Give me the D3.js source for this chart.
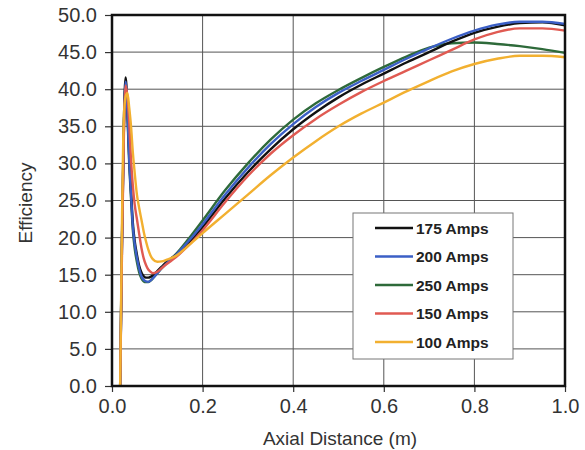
<!DOCTYPE html>
<html><head><meta charset="utf-8">
<script src="https://cdn.jsdelivr.net/npm/d3@7"></script>
<style>body{margin:0;background:#fff}svg{display:block}</style>
</head><body><svg id="c" width="585" height="450"></svg>
<script>
const xs = [0.018,0.022,0.026,0.030,0.034,0.038,0.042,0.046,0.050,0.055,0.060,0.065,0.070,0.075,0.080,0.085,0.090,0.100,0.110,0.120,0.140,0.170,0.200,0.250,0.300,0.350,0.400,0.450,0.500,0.550,0.600,0.650,0.700,0.750,0.800,0.850,0.900,0.950,1.000];
const amps175 = [0,20,35,41.6,37.5,31.0,26.3,22.0,19.6,17.7,16.2,15.3,14.8,14.6,14.6,14.7,14.9,15.5,16.1,16.7,17.6,19.3,21.4,25.3,28.8,31.9,34.6,36.9,38.9,40.6,42.1,43.6,45.0,46.4,47.6,48.4,48.9,49.0,48.6];
const amps200 = [0,19,34,41.0,37.0,30.5,25.8,21.5,19.2,17.3,15.8,14.8,14.3,14.1,14.05,14.2,14.5,15.2,15.9,16.5,17.6,19.6,21.8,25.8,29.4,32.6,35.3,37.6,39.5,41.1,42.6,44.1,45.5,46.8,47.9,48.7,49.1,49.1,48.8];
const amps250 = [0,19,34,40.7,36.5,30.0,25.3,21.0,18.6,16.7,15.3,14.5,14.1,14.0,14.0,14.2,14.5,15.2,15.9,16.6,17.7,19.9,22.3,26.4,30.0,33.2,35.9,38.1,39.9,41.5,43.0,44.4,45.6,46.2,46.3,46.1,45.8,45.4,44.9];
const amps150 = [0,18,33,40.5,39.0,35.5,30.5,27.0,24.5,22.5,20.5,18.6,17.2,16.3,15.7,15.4,15.2,15.4,15.9,16.4,17.3,19.0,21.0,24.8,28.3,31.3,33.8,36.0,37.9,39.6,41.1,42.5,43.9,45.3,46.7,47.7,48.2,48.2,47.9];
const amps100 = [0,22,36,39.0,39.5,37.5,35.0,31.5,28.8,25.8,24.0,22.4,20.8,19.5,18.4,17.6,17.1,16.75,16.8,17.0,17.5,19.0,20.6,23.2,25.8,28.4,30.8,33.0,35.0,36.7,38.2,39.7,41.1,42.4,43.4,44.1,44.5,44.5,44.3];
const seriesNames = ["175 Amps","200 Amps","250 Amps","150 Amps","100 Amps"];
const seriesValues = [amps175, amps200, amps250, amps150, amps100];
const seriesColors = ["#111111","#3b5fc6","#2e6a3a","#e05a52","#f2b030"];
const xTicks = [0,0.2,0.4,0.6,0.8,1.0];
const yTicks = [0,5,10,15,20,25,30,35,40,45,50];

const L=112,R=565,T=15,B=386;
const svg=d3.select("#c");
const x=d3.scaleLinear().domain([0,1]).range([L,R]);
const y=d3.scaleLinear().domain([0,50]).range([B,T]);
const font="'Liberation Sans', Arial, sans-serif";

// grid
svg.append("g").selectAll("line").data(xTicks.slice(1,-1)).join("line")
  .attr("x1",d=>x(d)).attr("x2",d=>x(d)).attr("y1",T).attr("y2",B)
  .attr("stroke","#555").attr("stroke-width",1);
svg.append("g").selectAll("line").data(yTicks.slice(1,-1)).join("line")
  .attr("x1",L).attr("x2",R).attr("y1",d=>y(d)).attr("y2",d=>y(d))
  .attr("stroke","#555").attr("stroke-width",1);

// axes
const ya=svg.append("g").attr("transform",`translate(${L},0)`)
  .call(d3.axisLeft(y).tickValues(yTicks).tickFormat(d3.format(".1f")).tickSize(7).tickPadding(8));
const xa=svg.append("g").attr("transform",`translate(0,${B})`)
  .call(d3.axisBottom(x).tickValues(xTicks).tickFormat(d3.format(".1f")).tickSize(6).tickPadding(7));
[ya,xa].forEach(a=>{
  a.select(".domain").remove();
  a.selectAll(".tick line").attr("stroke","#333").attr("stroke-width",1.2);
  a.selectAll("text").attr("font-family",font).attr("font-size",20).attr("fill","#333");
});

// lines
const line=d3.line().x((d,i)=>x(xs[i])).y(d=>y(d)).curve(d3.curveMonotoneX);
const order=[2,0,1,3,4];
svg.append("g").selectAll("path").data(order).join("path")
  .attr("d",k=>line(seriesValues[k])).attr("fill","none")
  .attr("stroke",k=>seriesColors[k]).attr("stroke-width",2.4)
  .attr("stroke-linejoin","round");

// frame
svg.append("rect").attr("x",L).attr("y",T).attr("width",R-L).attr("height",B-T)
  .attr("fill","none").attr("stroke","#111").attr("stroke-width",2.5);

// legend
const lg=svg.append("g");
lg.append("rect").attr("x",353).attr("y",213).attr("width",160).attr("height",146)
  .attr("fill","#fff").attr("stroke","#777").attr("stroke-width",1);
seriesNames.forEach((n,i)=>{
  const yy=228+i*28.5;
  lg.append("line").attr("x1",375).attr("x2",413).attr("y1",yy).attr("y2",yy)
    .attr("stroke",seriesColors[i]).attr("stroke-width",2.6);
  lg.append("text").attr("x",416).attr("y",yy+5.5).text(n)
    .attr("font-family",font).attr("font-weight","bold").attr("font-size",15.5).attr("fill","#222");
});

// titles
svg.append("text").attr("x",340).attr("y",445).attr("text-anchor","middle")
  .attr("font-family",font).attr("font-size",19).attr("fill","#333").text("Axial Distance (m)");
svg.append("text").attr("transform","translate(32,203) rotate(-90)").attr("text-anchor","middle")
  .attr("font-family",font).attr("font-size",19).attr("fill","#333").text("Efficiency");
</script></body></html>
